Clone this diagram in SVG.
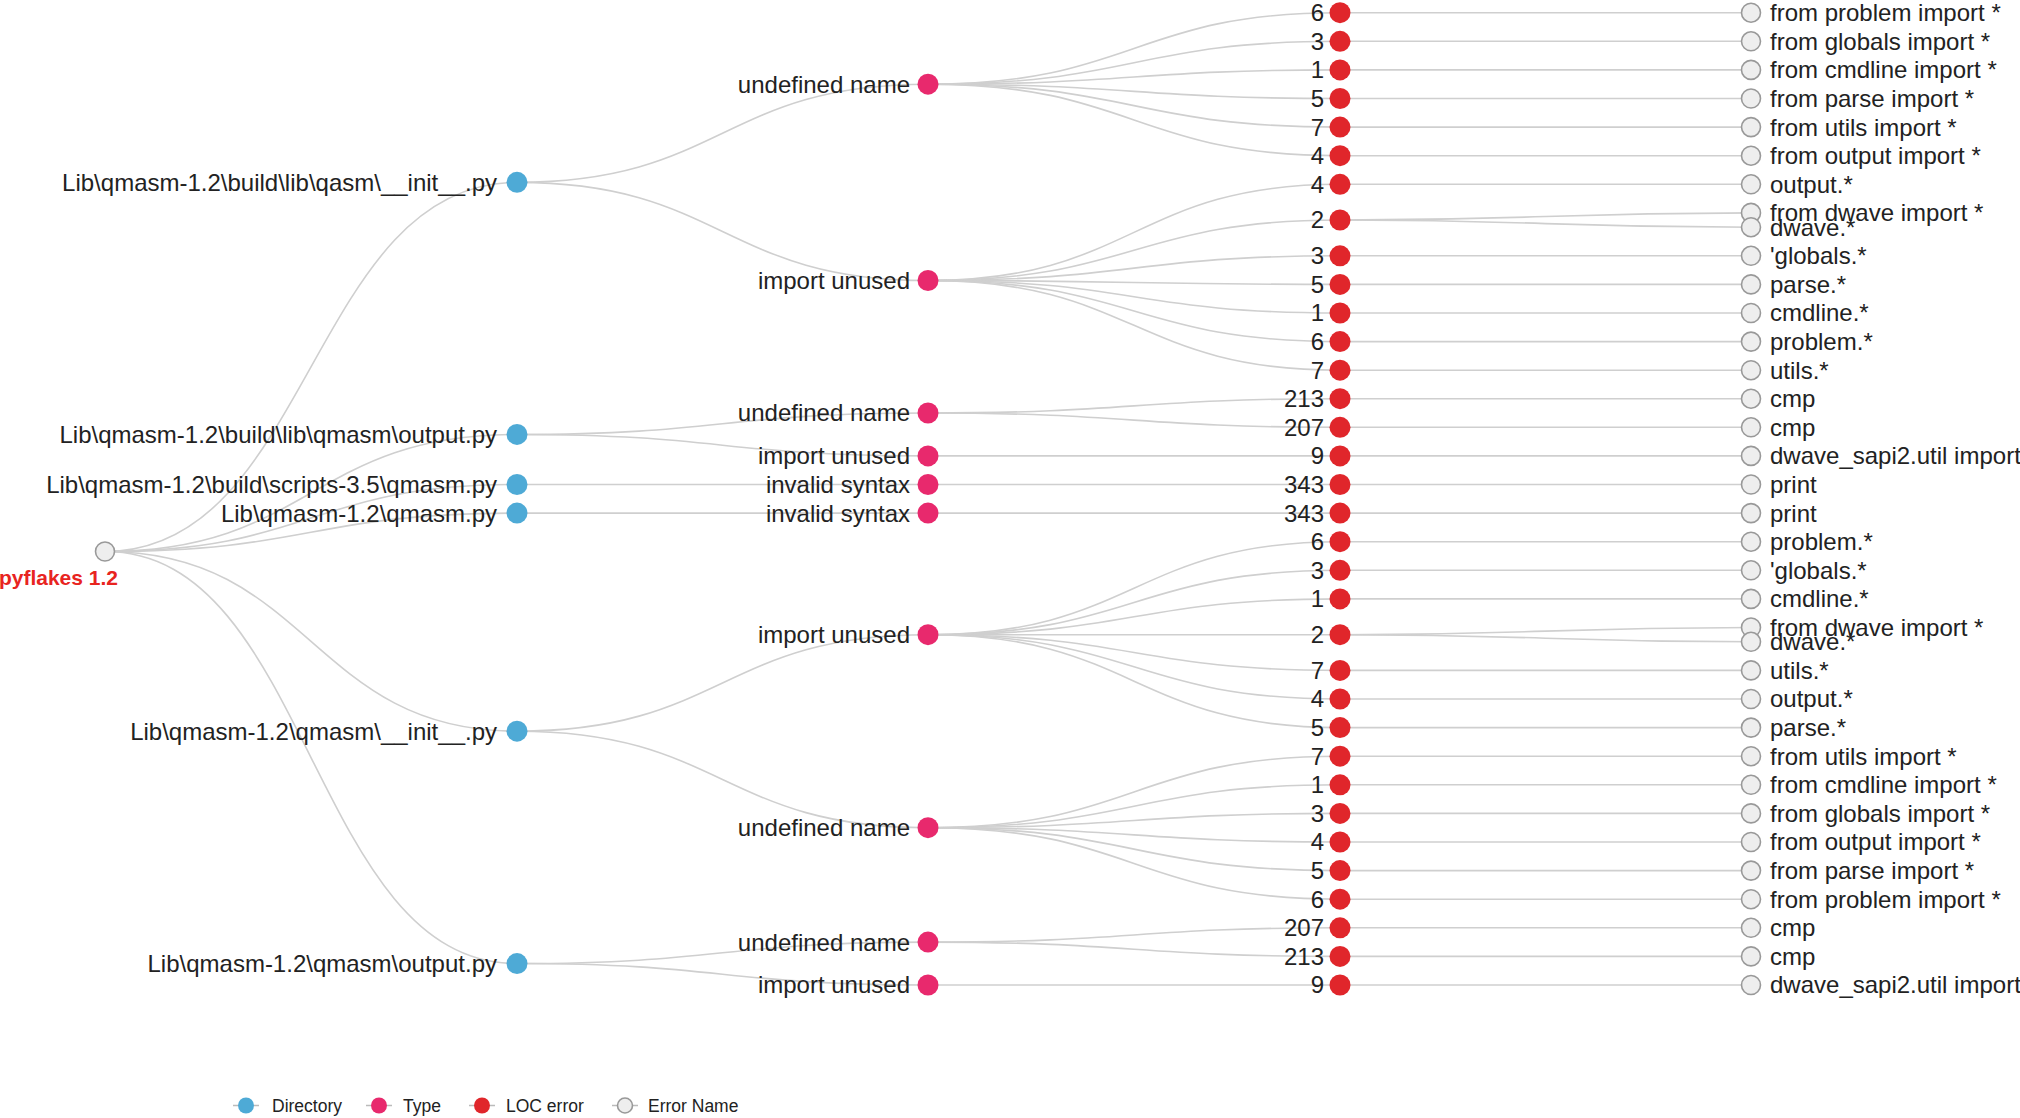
<svg xmlns="http://www.w3.org/2000/svg" width="2020" height="1118" viewBox="0 0 2020 1118">
<style>
  text { font-family: "Liberation Sans", Arial, sans-serif; font-size: 24px; fill: #222; }
  .link { fill: none; stroke: #cfcfcf; stroke-width: 1.6; }
  .dir { fill: #4eaad6; }
  .type { fill: #e8296d; }
  .loc { fill: #e0262b; }
  .err { fill: #eeeeee; stroke: #999; stroke-width: 1.6; }
  .lend { text-anchor: end; }
  .lstart { text-anchor: start; }
  .legend text { font-size: 17.5px; }
  .legline { stroke: #bbb; stroke-width: 1.5; }
</style>
<rect width="2020" height="1118" fill="#ffffff"/>
<g id="connectors">
  <!-- root to directories -->
  <path class="link" d="M105,551.5 C311,551.5 311,182.35 517,182.35"/>
  <path class="link" d="M105,551.5 C311,551.5 311,434.45 517,434.45"/>
  <path class="link" d="M105,551.5 C311,551.5 311,484.5 517,484.5"/>
  <path class="link" d="M105,551.5 C311,551.5 311,513.1 517,513.1"/>
  <path class="link" d="M105,551.5 C311,551.5 311,731.2 517,731.2"/>
  <path class="link" d="M105,551.5 C311,551.5 311,963.55 517,963.55"/>
  <!-- directories to types -->
  <path class="link" d="M517,182.35 C722.5,182.35 722.5,84.2 928,84.2"/>
  <path class="link" d="M517,182.35 C722.5,182.35 722.5,280.5 928,280.5"/>
  <path class="link" d="M517,434.45 C722.5,434.45 722.5,413 928,413"/>
  <path class="link" d="M517,434.45 C722.5,434.45 722.5,455.9 928,455.9"/>
  <path class="link" d="M517,484.5 C722.5,484.5 722.5,484.5 928,484.5"/>
  <path class="link" d="M517,513.1 C722.5,513.1 722.5,513.1 928,513.1"/>
  <path class="link" d="M517,731.2 C722.5,731.2 722.5,634.7 928,634.7"/>
  <path class="link" d="M517,731.2 C722.5,731.2 722.5,827.7 928,827.7"/>
  <path class="link" d="M517,963.55 C722.5,963.55 722.5,942.1 928,942.1"/>
  <path class="link" d="M517,963.55 C722.5,963.55 722.5,985 928,985"/>
  <!-- types to LOC -->
  <path class="link" d="M928,84.2 C1134,84.2 1134,12.7 1340,12.7"/>
  <path class="link" d="M928,84.2 C1134,84.2 1134,41.3 1340,41.3"/>
  <path class="link" d="M928,84.2 C1134,84.2 1134,69.9 1340,69.9"/>
  <path class="link" d="M928,84.2 C1134,84.2 1134,98.5 1340,98.5"/>
  <path class="link" d="M928,84.2 C1134,84.2 1134,127.1 1340,127.1"/>
  <path class="link" d="M928,84.2 C1134,84.2 1134,155.7 1340,155.7"/>
  <path class="link" d="M928,280.5 C1134,280.5 1134,184.3 1340,184.3"/>
  <path class="link" d="M928,280.5 C1134,280.5 1134,220 1340,220"/>
  <path class="link" d="M928,280.5 C1134,280.5 1134,255.8 1340,255.8"/>
  <path class="link" d="M928,280.5 C1134,280.5 1134,284.4 1340,284.4"/>
  <path class="link" d="M928,280.5 C1134,280.5 1134,313 1340,313"/>
  <path class="link" d="M928,280.5 C1134,280.5 1134,341.6 1340,341.6"/>
  <path class="link" d="M928,280.5 C1134,280.5 1134,370.2 1340,370.2"/>
  <path class="link" d="M928,413 C1134,413 1134,398.7 1340,398.7"/>
  <path class="link" d="M928,413 C1134,413 1134,427.3 1340,427.3"/>
  <path class="link" d="M928,455.9 C1134,455.9 1134,455.9 1340,455.9"/>
  <path class="link" d="M928,484.5 C1134,484.5 1134,484.5 1340,484.5"/>
  <path class="link" d="M928,513.1 C1134,513.1 1134,513.1 1340,513.1"/>
  <path class="link" d="M928,634.7 C1134,634.7 1134,541.7 1340,541.7"/>
  <path class="link" d="M928,634.7 C1134,634.7 1134,570.3 1340,570.3"/>
  <path class="link" d="M928,634.7 C1134,634.7 1134,598.9 1340,598.9"/>
  <path class="link" d="M928,634.7 C1134,634.7 1134,634.7 1340,634.7"/>
  <path class="link" d="M928,634.7 C1134,634.7 1134,670.4 1340,670.4"/>
  <path class="link" d="M928,634.7 C1134,634.7 1134,699 1340,699"/>
  <path class="link" d="M928,634.7 C1134,634.7 1134,727.6 1340,727.6"/>
  <path class="link" d="M928,827.7 C1134,827.7 1134,756.2 1340,756.2"/>
  <path class="link" d="M928,827.7 C1134,827.7 1134,784.8 1340,784.8"/>
  <path class="link" d="M928,827.7 C1134,827.7 1134,813.4 1340,813.4"/>
  <path class="link" d="M928,827.7 C1134,827.7 1134,842 1340,842"/>
  <path class="link" d="M928,827.7 C1134,827.7 1134,870.6 1340,870.6"/>
  <path class="link" d="M928,827.7 C1134,827.7 1134,899.2 1340,899.2"/>
  <path class="link" d="M928,942.1 C1134,942.1 1134,927.8 1340,927.8"/>
  <path class="link" d="M928,942.1 C1134,942.1 1134,956.4 1340,956.4"/>
  <path class="link" d="M928,985 C1134,985 1134,985 1340,985"/>
  <!-- LOC to error names -->
  <path class="link" d="M1340,12.7 H1751"/>
  <path class="link" d="M1340,41.3 H1751"/>
  <path class="link" d="M1340,69.9 H1751"/>
  <path class="link" d="M1340,98.5 H1751"/>
  <path class="link" d="M1340,127.1 H1751"/>
  <path class="link" d="M1340,155.7 H1751"/>
  <path class="link" d="M1340,184.3 H1751"/>
  <path class="link" d="M1340,220 C1545.5,220 1545.5,212.9 1751,212.9"/>
  <path class="link" d="M1340,220 C1545.5,220 1545.5,227.2 1751,227.2"/>
  <path class="link" d="M1340,255.8 H1751"/>
  <path class="link" d="M1340,284.4 H1751"/>
  <path class="link" d="M1340,313 H1751"/>
  <path class="link" d="M1340,341.6 H1751"/>
  <path class="link" d="M1340,370.2 H1751"/>
  <path class="link" d="M1340,398.7 H1751"/>
  <path class="link" d="M1340,427.3 H1751"/>
  <path class="link" d="M1340,455.9 H1751"/>
  <path class="link" d="M1340,484.5 H1751"/>
  <path class="link" d="M1340,513.1 H1751"/>
  <path class="link" d="M1340,541.7 H1751"/>
  <path class="link" d="M1340,570.3 H1751"/>
  <path class="link" d="M1340,598.9 H1751"/>
  <path class="link" d="M1340,634.7 C1545.5,634.7 1545.5,627.5 1751,627.5"/>
  <path class="link" d="M1340,634.7 C1545.5,634.7 1545.5,641.8 1751,641.8"/>
  <path class="link" d="M1340,670.4 H1751"/>
  <path class="link" d="M1340,699 H1751"/>
  <path class="link" d="M1340,727.6 H1751"/>
  <path class="link" d="M1340,756.2 H1751"/>
  <path class="link" d="M1340,784.8 H1751"/>
  <path class="link" d="M1340,813.4 H1751"/>
  <path class="link" d="M1340,842 H1751"/>
  <path class="link" d="M1340,870.6 H1751"/>
  <path class="link" d="M1340,899.2 H1751"/>
  <path class="link" d="M1340,927.8 H1751"/>
  <path class="link" d="M1340,956.4 H1751"/>
  <path class="link" d="M1340,985 H1751"/>
</g>

<g id="root">
  <circle class="err" cx="105" cy="551.5" r="9.5"/>
  <text x="118" y="585" text-anchor="end" style="fill:#e8241f;font-weight:bold;font-size:21px">pyflakes 1.2</text>
</g>

<g id="dir1"><circle class="dir" cx="517" cy="182.35" r="10.5"/><text class="lend" x="497" y="182.35" dy="0.35em">Lib\qmasm-1.2\build\lib\qasm\__init__.py</text></g>
<g id="dir2"><circle class="dir" cx="517" cy="434.45" r="10.5"/><text class="lend" x="497" y="434.45" dy="0.35em">Lib\qmasm-1.2\build\lib\qmasm\output.py</text></g>
<g id="dir3"><circle class="dir" cx="517" cy="484.5" r="10.5"/><text class="lend" x="497" y="484.5" dy="0.35em">Lib\qmasm-1.2\build\scripts-3.5\qmasm.py</text></g>
<g id="dir4"><circle class="dir" cx="517" cy="513.1" r="10.5"/><text class="lend" x="497" y="513.1" dy="0.35em">Lib\qmasm-1.2\qmasm.py</text></g>
<g id="dir5"><circle class="dir" cx="517" cy="731.2" r="10.5"/><text class="lend" x="497" y="731.2" dy="0.35em">Lib\qmasm-1.2\qmasm\__init__.py</text></g>
<g id="dir6"><circle class="dir" cx="517" cy="963.55" r="10.5"/><text class="lend" x="497" y="963.55" dy="0.35em">Lib\qmasm-1.2\qmasm\output.py</text></g>

<g id="type1"><circle class="type" cx="928" cy="84.2" r="10.5"/><text class="lend" x="910" y="84.2" dy="0.35em">undefined name</text></g>
<g id="type2"><circle class="type" cx="928" cy="280.5" r="10.5"/><text class="lend" x="910" y="280.5" dy="0.35em">import unused</text></g>
<g id="type3"><circle class="type" cx="928" cy="413" r="10.5"/><text class="lend" x="910" y="413" dy="0.35em">undefined name</text></g>
<g id="type4"><circle class="type" cx="928" cy="455.9" r="10.5"/><text class="lend" x="910" y="455.9" dy="0.35em">import unused</text></g>
<g id="type5"><circle class="type" cx="928" cy="484.5" r="10.5"/><text class="lend" x="910" y="484.5" dy="0.35em">invalid syntax</text></g>
<g id="type6"><circle class="type" cx="928" cy="513.1" r="10.5"/><text class="lend" x="910" y="513.1" dy="0.35em">invalid syntax</text></g>
<g id="type7"><circle class="type" cx="928" cy="634.7" r="10.5"/><text class="lend" x="910" y="634.7" dy="0.35em">import unused</text></g>
<g id="type8"><circle class="type" cx="928" cy="827.7" r="10.5"/><text class="lend" x="910" y="827.7" dy="0.35em">undefined name</text></g>
<g id="type9"><circle class="type" cx="928" cy="942.1" r="10.5"/><text class="lend" x="910" y="942.1" dy="0.35em">undefined name</text></g>
<g id="type10"><circle class="type" cx="928" cy="985" r="10.5"/><text class="lend" x="910" y="985" dy="0.35em">import unused</text></g>

<g id="loc1"><circle class="loc" cx="1340" cy="12.7" r="10.5"/><text class="lend" x="1324" y="12.7" dy="0.35em">6</text></g>
<g id="loc2"><circle class="loc" cx="1340" cy="41.3" r="10.5"/><text class="lend" x="1324" y="41.3" dy="0.35em">3</text></g>
<g id="loc3"><circle class="loc" cx="1340" cy="69.9" r="10.5"/><text class="lend" x="1324" y="69.9" dy="0.35em">1</text></g>
<g id="loc4"><circle class="loc" cx="1340" cy="98.5" r="10.5"/><text class="lend" x="1324" y="98.5" dy="0.35em">5</text></g>
<g id="loc5"><circle class="loc" cx="1340" cy="127.1" r="10.5"/><text class="lend" x="1324" y="127.1" dy="0.35em">7</text></g>
<g id="loc6"><circle class="loc" cx="1340" cy="155.7" r="10.5"/><text class="lend" x="1324" y="155.7" dy="0.35em">4</text></g>
<g id="loc7"><circle class="loc" cx="1340" cy="184.3" r="10.5"/><text class="lend" x="1324" y="184.3" dy="0.35em">4</text></g>
<g id="loc8"><circle class="loc" cx="1340" cy="220" r="10.5"/><text class="lend" x="1324" y="220" dy="0.35em">2</text></g>
<g id="loc9"><circle class="loc" cx="1340" cy="255.8" r="10.5"/><text class="lend" x="1324" y="255.8" dy="0.35em">3</text></g>
<g id="loc10"><circle class="loc" cx="1340" cy="284.4" r="10.5"/><text class="lend" x="1324" y="284.4" dy="0.35em">5</text></g>
<g id="loc11"><circle class="loc" cx="1340" cy="313" r="10.5"/><text class="lend" x="1324" y="313" dy="0.35em">1</text></g>
<g id="loc12"><circle class="loc" cx="1340" cy="341.6" r="10.5"/><text class="lend" x="1324" y="341.6" dy="0.35em">6</text></g>
<g id="loc13"><circle class="loc" cx="1340" cy="370.2" r="10.5"/><text class="lend" x="1324" y="370.2" dy="0.35em">7</text></g>
<g id="loc14"><circle class="loc" cx="1340" cy="398.7" r="10.5"/><text class="lend" x="1324" y="398.7" dy="0.35em">213</text></g>
<g id="loc15"><circle class="loc" cx="1340" cy="427.3" r="10.5"/><text class="lend" x="1324" y="427.3" dy="0.35em">207</text></g>
<g id="loc16"><circle class="loc" cx="1340" cy="455.9" r="10.5"/><text class="lend" x="1324" y="455.9" dy="0.35em">9</text></g>
<g id="loc17"><circle class="loc" cx="1340" cy="484.5" r="10.5"/><text class="lend" x="1324" y="484.5" dy="0.35em">343</text></g>
<g id="loc18"><circle class="loc" cx="1340" cy="513.1" r="10.5"/><text class="lend" x="1324" y="513.1" dy="0.35em">343</text></g>
<g id="loc19"><circle class="loc" cx="1340" cy="541.7" r="10.5"/><text class="lend" x="1324" y="541.7" dy="0.35em">6</text></g>
<g id="loc20"><circle class="loc" cx="1340" cy="570.3" r="10.5"/><text class="lend" x="1324" y="570.3" dy="0.35em">3</text></g>
<g id="loc21"><circle class="loc" cx="1340" cy="598.9" r="10.5"/><text class="lend" x="1324" y="598.9" dy="0.35em">1</text></g>
<g id="loc22"><circle class="loc" cx="1340" cy="634.7" r="10.5"/><text class="lend" x="1324" y="634.7" dy="0.35em">2</text></g>
<g id="loc23"><circle class="loc" cx="1340" cy="670.4" r="10.5"/><text class="lend" x="1324" y="670.4" dy="0.35em">7</text></g>
<g id="loc24"><circle class="loc" cx="1340" cy="699" r="10.5"/><text class="lend" x="1324" y="699" dy="0.35em">4</text></g>
<g id="loc25"><circle class="loc" cx="1340" cy="727.6" r="10.5"/><text class="lend" x="1324" y="727.6" dy="0.35em">5</text></g>
<g id="loc26"><circle class="loc" cx="1340" cy="756.2" r="10.5"/><text class="lend" x="1324" y="756.2" dy="0.35em">7</text></g>
<g id="loc27"><circle class="loc" cx="1340" cy="784.8" r="10.5"/><text class="lend" x="1324" y="784.8" dy="0.35em">1</text></g>
<g id="loc28"><circle class="loc" cx="1340" cy="813.4" r="10.5"/><text class="lend" x="1324" y="813.4" dy="0.35em">3</text></g>
<g id="loc29"><circle class="loc" cx="1340" cy="842" r="10.5"/><text class="lend" x="1324" y="842" dy="0.35em">4</text></g>
<g id="loc30"><circle class="loc" cx="1340" cy="870.6" r="10.5"/><text class="lend" x="1324" y="870.6" dy="0.35em">5</text></g>
<g id="loc31"><circle class="loc" cx="1340" cy="899.2" r="10.5"/><text class="lend" x="1324" y="899.2" dy="0.35em">6</text></g>
<g id="loc32"><circle class="loc" cx="1340" cy="927.8" r="10.5"/><text class="lend" x="1324" y="927.8" dy="0.35em">207</text></g>
<g id="loc33"><circle class="loc" cx="1340" cy="956.4" r="10.5"/><text class="lend" x="1324" y="956.4" dy="0.35em">213</text></g>
<g id="loc34"><circle class="loc" cx="1340" cy="985" r="10.5"/><text class="lend" x="1324" y="985" dy="0.35em">9</text></g>

<g id="err1"><circle class="err" cx="1751" cy="12.7" r="9.5"/><text class="lstart" x="1770" y="12.7" dy="0.35em">from problem import *</text></g>
<g id="err2"><circle class="err" cx="1751" cy="41.3" r="9.5"/><text class="lstart" x="1770" y="41.3" dy="0.35em">from globals import *</text></g>
<g id="err3"><circle class="err" cx="1751" cy="69.9" r="9.5"/><text class="lstart" x="1770" y="69.9" dy="0.35em">from cmdline import *</text></g>
<g id="err4"><circle class="err" cx="1751" cy="98.5" r="9.5"/><text class="lstart" x="1770" y="98.5" dy="0.35em">from parse import *</text></g>
<g id="err5"><circle class="err" cx="1751" cy="127.1" r="9.5"/><text class="lstart" x="1770" y="127.1" dy="0.35em">from utils import *</text></g>
<g id="err6"><circle class="err" cx="1751" cy="155.7" r="9.5"/><text class="lstart" x="1770" y="155.7" dy="0.35em">from output import *</text></g>
<g id="err7"><circle class="err" cx="1751" cy="184.3" r="9.5"/><text class="lstart" x="1770" y="184.3" dy="0.35em">output.*</text></g>
<g id="err8"><circle class="err" cx="1751" cy="212.9" r="9.5"/><text class="lstart" x="1770" y="212.9" dy="0.35em">from dwave import *</text></g>
<g id="err9"><circle class="err" cx="1751" cy="227.2" r="9.5"/><text class="lstart" x="1770" y="227.2" dy="0.35em">dwave.*</text></g>
<g id="err10"><circle class="err" cx="1751" cy="255.8" r="9.5"/><text class="lstart" x="1770" y="255.8" dy="0.35em">'globals.*</text></g>
<g id="err11"><circle class="err" cx="1751" cy="284.4" r="9.5"/><text class="lstart" x="1770" y="284.4" dy="0.35em">parse.*</text></g>
<g id="err12"><circle class="err" cx="1751" cy="313" r="9.5"/><text class="lstart" x="1770" y="313" dy="0.35em">cmdline.*</text></g>
<g id="err13"><circle class="err" cx="1751" cy="341.6" r="9.5"/><text class="lstart" x="1770" y="341.6" dy="0.35em">problem.*</text></g>
<g id="err14"><circle class="err" cx="1751" cy="370.2" r="9.5"/><text class="lstart" x="1770" y="370.2" dy="0.35em">utils.*</text></g>
<g id="err15"><circle class="err" cx="1751" cy="398.7" r="9.5"/><text class="lstart" x="1770" y="398.7" dy="0.35em">cmp</text></g>
<g id="err16"><circle class="err" cx="1751" cy="427.3" r="9.5"/><text class="lstart" x="1770" y="427.3" dy="0.35em">cmp</text></g>
<g id="err17"><circle class="err" cx="1751" cy="455.9" r="9.5"/><text class="lstart" x="1770" y="455.9" dy="0.35em">dwave_sapi2.util import</text></g>
<g id="err18"><circle class="err" cx="1751" cy="484.5" r="9.5"/><text class="lstart" x="1770" y="484.5" dy="0.35em">print</text></g>
<g id="err19"><circle class="err" cx="1751" cy="513.1" r="9.5"/><text class="lstart" x="1770" y="513.1" dy="0.35em">print</text></g>
<g id="err20"><circle class="err" cx="1751" cy="541.7" r="9.5"/><text class="lstart" x="1770" y="541.7" dy="0.35em">problem.*</text></g>
<g id="err21"><circle class="err" cx="1751" cy="570.3" r="9.5"/><text class="lstart" x="1770" y="570.3" dy="0.35em">'globals.*</text></g>
<g id="err22"><circle class="err" cx="1751" cy="598.9" r="9.5"/><text class="lstart" x="1770" y="598.9" dy="0.35em">cmdline.*</text></g>
<g id="err23"><circle class="err" cx="1751" cy="627.5" r="9.5"/><text class="lstart" x="1770" y="627.5" dy="0.35em">from dwave import *</text></g>
<g id="err24"><circle class="err" cx="1751" cy="641.8" r="9.5"/><text class="lstart" x="1770" y="641.8" dy="0.35em">dwave.*</text></g>
<g id="err25"><circle class="err" cx="1751" cy="670.4" r="9.5"/><text class="lstart" x="1770" y="670.4" dy="0.35em">utils.*</text></g>
<g id="err26"><circle class="err" cx="1751" cy="699" r="9.5"/><text class="lstart" x="1770" y="699" dy="0.35em">output.*</text></g>
<g id="err27"><circle class="err" cx="1751" cy="727.6" r="9.5"/><text class="lstart" x="1770" y="727.6" dy="0.35em">parse.*</text></g>
<g id="err28"><circle class="err" cx="1751" cy="756.2" r="9.5"/><text class="lstart" x="1770" y="756.2" dy="0.35em">from utils import *</text></g>
<g id="err29"><circle class="err" cx="1751" cy="784.8" r="9.5"/><text class="lstart" x="1770" y="784.8" dy="0.35em">from cmdline import *</text></g>
<g id="err30"><circle class="err" cx="1751" cy="813.4" r="9.5"/><text class="lstart" x="1770" y="813.4" dy="0.35em">from globals import *</text></g>
<g id="err31"><circle class="err" cx="1751" cy="842" r="9.5"/><text class="lstart" x="1770" y="842" dy="0.35em">from output import *</text></g>
<g id="err32"><circle class="err" cx="1751" cy="870.6" r="9.5"/><text class="lstart" x="1770" y="870.6" dy="0.35em">from parse import *</text></g>
<g id="err33"><circle class="err" cx="1751" cy="899.2" r="9.5"/><text class="lstart" x="1770" y="899.2" dy="0.35em">from problem import *</text></g>
<g id="err34"><circle class="err" cx="1751" cy="927.8" r="9.5"/><text class="lstart" x="1770" y="927.8" dy="0.35em">cmp</text></g>
<g id="err35"><circle class="err" cx="1751" cy="956.4" r="9.5"/><text class="lstart" x="1770" y="956.4" dy="0.35em">cmp</text></g>
<g id="err36"><circle class="err" cx="1751" cy="985" r="9.5"/><text class="lstart" x="1770" y="985" dy="0.35em">dwave_sapi2.util import</text></g>

<g id="legend" class="legend">
  <line class="legline" x1="233" y1="1105.5" x2="259" y2="1105.5"/>
  <circle class="dir" cx="246" cy="1105.5" r="8"/>
  <text x="272" y="1111.5">Directory</text>
  <line class="legline" x1="366" y1="1105.5" x2="392" y2="1105.5"/>
  <circle class="type" cx="379" cy="1105.5" r="8"/>
  <text x="403" y="1111.5">Type</text>
  <line class="legline" x1="469" y1="1105.5" x2="495" y2="1105.5"/>
  <circle class="loc" cx="482" cy="1105.5" r="8"/>
  <text x="506" y="1111.5">LOC error</text>
  <line class="legline" x1="612" y1="1105.5" x2="638" y2="1105.5"/>
  <circle class="err" cx="625" cy="1105.5" r="7.5"/>
  <text x="648" y="1111.5">Error Name</text>
</g>
</svg>
